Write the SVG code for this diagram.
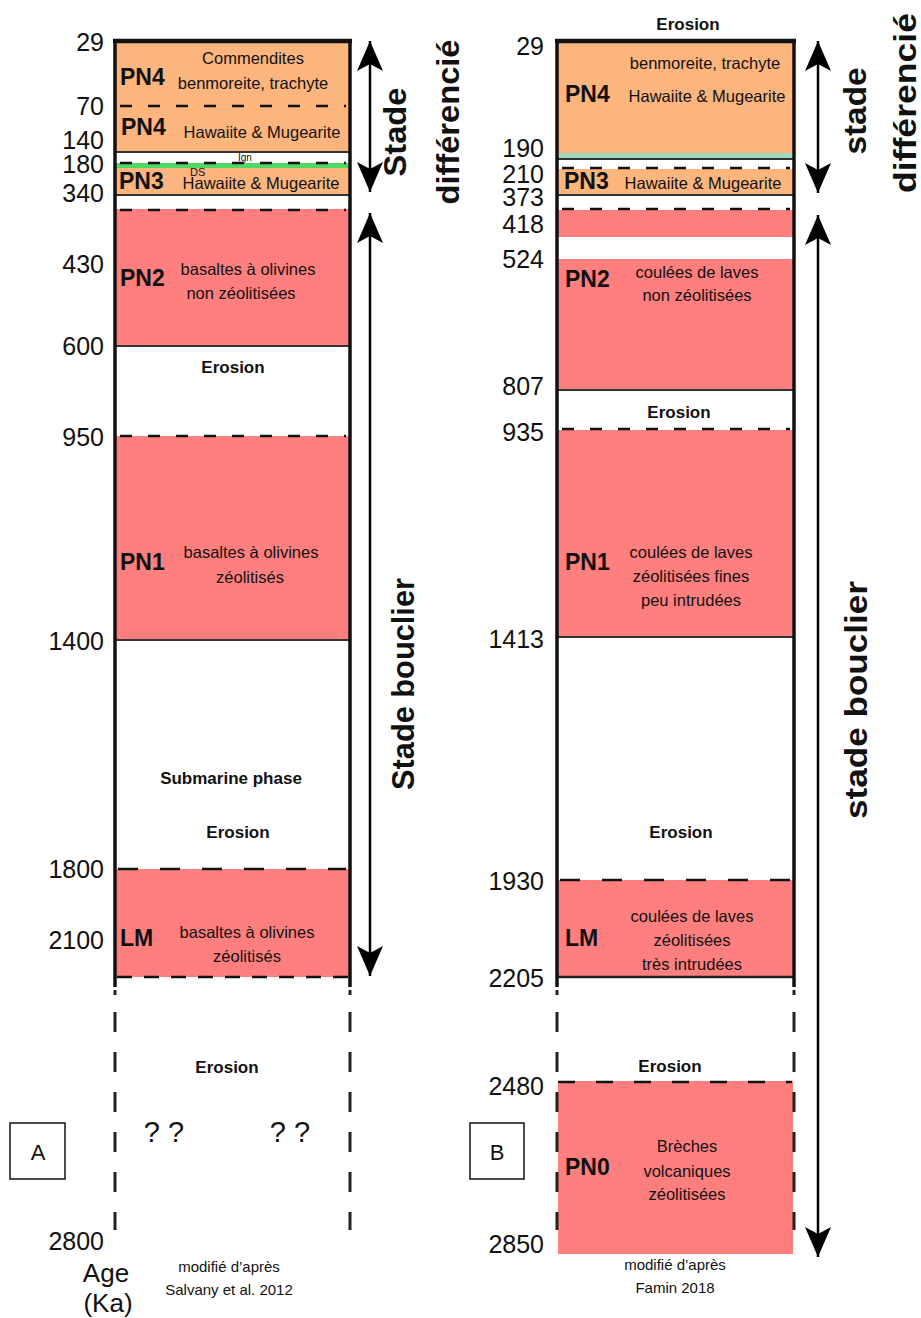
<svg xmlns="http://www.w3.org/2000/svg" width="921" height="1318" viewBox="0 0 921 1318">
<style>
text{font-family:"Liberation Sans",Arial,sans-serif;fill:#111}
.num{font-size:25px;text-anchor:end}
.pn{font-size:23px;font-weight:bold}
.d{font-size:16.5px;text-anchor:middle}
.er{font-size:17px;font-weight:bold;text-anchor:middle}
.rot{font-size:32px;font-weight:bold;text-anchor:middle}
.or{fill:#fdb57e}
.pk{fill:#ff7f7f}
.sep{stroke:#333;stroke-width:2}
.ds{stroke:#111;stroke-width:2.5;stroke-dasharray:12 16}
.dl{stroke:#111;stroke-width:2.5;stroke-dasharray:20 22}
.side{stroke:#111;stroke-width:3.5}
.vd{stroke:#222;stroke-width:3;stroke-dasharray:20 20}
.arr{stroke:#000;stroke-width:2.5;fill:none}
</style>
<defs>
<marker id="ah" viewBox="0 0 30 26" refX="30" refY="13" markerWidth="30" markerHeight="26" markerUnits="userSpaceOnUse" orient="auto-start-reverse">
<path d="M0,0 L30,13 L0,26 L7,13 Z" fill="#000"/>
</marker>
</defs>
<rect width="921" height="1318" fill="#fff"/>

<!-- Column A -->
<g id="colA">
<g id="A-PN4"><rect class="or" x="115" y="43" width="235" height="109"/>
<line class="ds" x1="120" y1="106" x2="346" y2="106"/>
<text class="pn" x="120" y="85">PN4</text>
<text class="d" x="253" y="64">Commendites</text>
<text class="d" x="253" y="89">benmoreite, trachyte</text>
<text class="pn" x="121" y="135">PN4</text>
<text class="d" x="262" y="138">Hawaiite &amp; Mugearite</text>
<line class="sep" x1="115" y1="152" x2="350" y2="152"/></g>
<g id="A-PN3"><rect class="or" x="115" y="168" width="235" height="27"/>
<text class="pn" x="119" y="189">PN3</text>
<text class="d" x="261" y="189">Hawaiite &amp; Mugearite</text>
<line class="sep" x1="115" y1="195" x2="350" y2="195"/></g>
<g id="A-Ign"><rect x="115" y="163" width="235" height="5" fill="#4cd964"/>
<line class="ds" x1="120" y1="163" x2="346" y2="163"/>
<text x="238" y="161" font-size="10">Ign</text>
<text x="190" y="176" font-size="11">DS</text></g>
<g id="A-PN2"><rect class="pk" x="115" y="209" width="235" height="137"/>
<line class="ds" x1="120" y1="210" x2="346" y2="210"/>
<text class="pn" x="120" y="286">PN2</text>
<text class="d" x="248" y="275">basaltes à olivines</text>
<text class="d" x="241" y="299">non zéolitisées</text>
<line class="sep" x1="115" y1="346" x2="350" y2="346"/></g>
<g id="A-Er1"><text class="er" x="233" y="373">Erosion</text></g>
<g id="A-PN1"><rect class="pk" x="115" y="436" width="235" height="204"/>
<line class="ds" x1="120" y1="436" x2="346" y2="436"/>
<text class="pn" x="120" y="570">PN1</text>
<text class="d" x="251" y="558">basaltes à olivines</text>
<text class="d" x="250" y="583">zéolitisés</text>
<line class="sep" x1="115" y1="640" x2="350" y2="640"/></g>
<g id="A-Sub"><text class="er" x="231" y="784">Submarine phase</text>
<text class="er" x="238" y="838">Erosion</text></g>
<g id="A-LM"><rect class="pk" x="115" y="869" width="235" height="108"/>
<line class="dl" x1="118" y1="869" x2="346" y2="869"/>
<line class="ds" x1="117" y1="977" x2="348" y2="977" style="stroke-dasharray:15 12"/>
<text class="pn" x="120" y="946">LM</text>
<text class="d" x="247" y="938">basaltes à olivines</text>
<text class="d" x="247" y="962">zéolitisés</text></g>
<g id="A-frame">
<line x1="113" y1="41" x2="352" y2="41" stroke="#111" stroke-width="4.5"/>
<line class="side" x1="115" y1="39" x2="115" y2="987"/>
<line class="side" x1="350" y1="39" x2="350" y2="987"/>
<line x1="115" y1="990" x2="115" y2="995" stroke="#222" stroke-width="3"/>
<line x1="350" y1="990" x2="350" y2="995" stroke="#222" stroke-width="3"/>
<line class="vd" x1="115" y1="1012" x2="115" y2="1230"/>
<line class="vd" x1="350" y1="1012" x2="350" y2="1230"/></g>
<g id="A-bottom"><text class="er" x="227" y="1073">Erosion</text>
<text x="164" y="1142" font-size="29" text-anchor="middle">? ?</text>
<text x="290" y="1142" font-size="29" text-anchor="middle">? ?</text>
<text x="229" y="1272" font-size="15" text-anchor="middle">modifié d’après</text>
<text x="229" y="1295" font-size="15" text-anchor="middle">Salvany et al. 2012</text></g>
<g id="A-label"><rect x="10" y="1123" width="55" height="56" fill="none" stroke="#111" stroke-width="1.5"/>
<text x="38" y="1160" font-size="22" text-anchor="middle">A</text></g>
<g id="A-ages">
<text class="num" x="104" y="51">29</text>
<text class="num" x="104" y="115">70</text>
<text class="num" x="104" y="149">140</text>
<text class="num" x="104" y="173">180</text>
<text class="num" x="104" y="202">340</text>
<text class="num" x="104" y="273">430</text>
<text class="num" x="104" y="355">600</text>
<text class="num" x="104" y="446">950</text>
<text class="num" x="104" y="650">1400</text>
<text class="num" x="104" y="878">1800</text>
<text class="num" x="104" y="949">2100</text>
<text class="num" x="104" y="1250">2800</text>
<text x="106" y="1282" font-size="26" text-anchor="middle">Age</text>
<text x="108" y="1312" font-size="26" text-anchor="middle">(Ka)</text></g>
<g id="A-stages">
<text class="rot" transform="translate(406,132) rotate(-90)" textLength="89" lengthAdjust="spacingAndGlyphs">Stade</text>
<text class="rot" transform="translate(459,122) rotate(-90)" textLength="165" lengthAdjust="spacingAndGlyphs">différencié</text>
<text class="rot" transform="translate(414,684) rotate(-90)" textLength="212" lengthAdjust="spacingAndGlyphs">Stade bouclier</text></g>
</g>

<!-- Column B -->
<g id="colB">
<g id="B-top"><text class="er" x="688" y="30">Erosion</text></g>
<g id="B-PN4"><rect class="or" x="557" y="43" width="237" height="110"/>
<rect x="557" y="153" width="237" height="5" fill="#9fd9bd"/>
<text class="pn" x="565" y="102">PN4</text>
<text class="d" x="705" y="69">benmoreite, trachyte</text>
<text class="d" x="707" y="102">Hawaiite &amp; Mugearite</text>
<line class="sep" x1="557" y1="159" x2="794" y2="159"/></g>
<g id="B-PN3"><rect class="or" x="557" y="169" width="237" height="26"/>
<line class="ds" x1="562" y1="168" x2="790" y2="168"/>
<text class="pn" x="564" y="189">PN3</text>
<text class="d" x="703" y="189">Hawaiite &amp; Mugearite</text>
<line class="sep" x1="557" y1="195" x2="794" y2="195"/></g>
<g id="B-PN2"><rect class="pk" x="557" y="210" width="237" height="27"/>
<line class="ds" x1="562" y1="209" x2="790" y2="209"/>
<rect class="pk" x="557" y="259" width="237" height="131"/>
<text class="pn" x="565" y="287">PN2</text>
<text class="d" x="697" y="278">coulées de laves</text>
<text class="d" x="697" y="301">non zéolitisées</text>
<line class="sep" x1="557" y1="390" x2="794" y2="390"/></g>
<g id="B-Er1"><text class="er" x="679" y="418">Erosion</text></g>
<g id="B-PN1"><rect class="pk" x="557" y="430" width="237" height="207"/>
<line class="ds" x1="562" y1="429" x2="790" y2="429"/>
<text class="pn" x="565" y="570">PN1</text>
<text class="d" x="691" y="558">coulées de laves</text>
<text class="d" x="691" y="582">zéolitisées fines</text>
<text class="d" x="691" y="606">peu intrudées</text>
<line class="sep" x1="557" y1="637" x2="794" y2="637"/></g>
<g id="B-Er2"><text class="er" x="681" y="838">Erosion</text></g>
<g id="B-LM"><rect class="pk" x="557" y="880" width="237" height="97"/>
<line class="dl" x1="560" y1="880" x2="790" y2="880"/>
<text class="pn" x="565" y="946">LM</text>
<text class="d" x="692" y="922">coulées de laves</text>
<text class="d" x="692" y="946">zéolitisées</text>
<text class="d" x="692" y="970">très intrudées</text>
<line x1="557" y1="977" x2="794" y2="977" stroke="#222" stroke-width="2.5"/></g>
<g id="B-Er3"><text class="er" x="670" y="1072">Erosion</text></g>
<g id="B-PN0"><rect class="pk" x="558" y="1081" width="235" height="173"/>
<line class="dl" x1="558" y1="1082" x2="792" y2="1082" style="stroke-dasharray:17 21"/>
<text class="pn" x="565" y="1175">PN0</text>
<text class="d" x="687" y="1152">Brèches</text>
<text class="d" x="687" y="1177">volcaniques</text>
<text class="d" x="687" y="1200">zéolitisées</text></g>
<g id="B-frame">
<line x1="555" y1="41" x2="796" y2="41" stroke="#111" stroke-width="4.5"/>
<line class="side" x1="557" y1="39" x2="557" y2="987"/>
<line class="side" x1="794" y1="39" x2="794" y2="987"/>
<line x1="557" y1="990" x2="557" y2="995" stroke="#222" stroke-width="3"/>
<line x1="794" y1="990" x2="794" y2="995" stroke="#222" stroke-width="3"/>
<line class="vd" x1="557" y1="1012" x2="557" y2="1230"/>
<line class="vd" x1="794" y1="1012" x2="794" y2="1230"/></g>
<g id="B-notes"><text x="675" y="1270" font-size="15" text-anchor="middle">modifié d’après</text>
<text x="675" y="1293" font-size="15" text-anchor="middle">Famin 2018</text></g>
<g id="B-label"><rect x="470" y="1123" width="54" height="56" fill="none" stroke="#111" stroke-width="1.5"/>
<text x="497" y="1160" font-size="22" text-anchor="middle">B</text></g>
<g id="B-ages">
<text class="num" x="544" y="55">29</text>
<text class="num" x="544" y="157">190</text>
<text class="num" x="544" y="183">210</text>
<text class="num" x="544" y="206">373</text>
<text class="num" x="544" y="233">418</text>
<text class="num" x="544" y="268">524</text>
<text class="num" x="544" y="395">807</text>
<text class="num" x="544" y="441">935</text>
<text class="num" x="544" y="648">1413</text>
<text class="num" x="544" y="890">1930</text>
<text class="num" x="544" y="987">2205</text>
<text class="num" x="544" y="1095">2480</text>
<text class="num" x="544" y="1253">2850</text></g>
<g id="B-stages">
<text class="rot" transform="translate(866,111) rotate(-90)" textLength="87" lengthAdjust="spacingAndGlyphs">stade</text>
<text class="rot" transform="translate(916,103) rotate(-90)" textLength="180" lengthAdjust="spacingAndGlyphs">différencié</text>
<text class="rot" transform="translate(867,700) rotate(-90)" textLength="238" lengthAdjust="spacingAndGlyphs">stade bouclier</text></g>
</g>

<!-- Connectors -->
<g id="connectors">
<line class="arr" x1="370" y1="41" x2="370" y2="192" marker-start="url(#ah)" marker-end="url(#ah)"/>
<line class="arr" x1="370" y1="213" x2="370" y2="976" marker-start="url(#ah)" marker-end="url(#ah)"/>
<line class="arr" x1="818" y1="41" x2="818" y2="193" marker-start="url(#ah)" marker-end="url(#ah)"/>
<line class="arr" x1="818" y1="215" x2="818" y2="1257" marker-start="url(#ah)" marker-end="url(#ah)"/>
</g>
</svg>
